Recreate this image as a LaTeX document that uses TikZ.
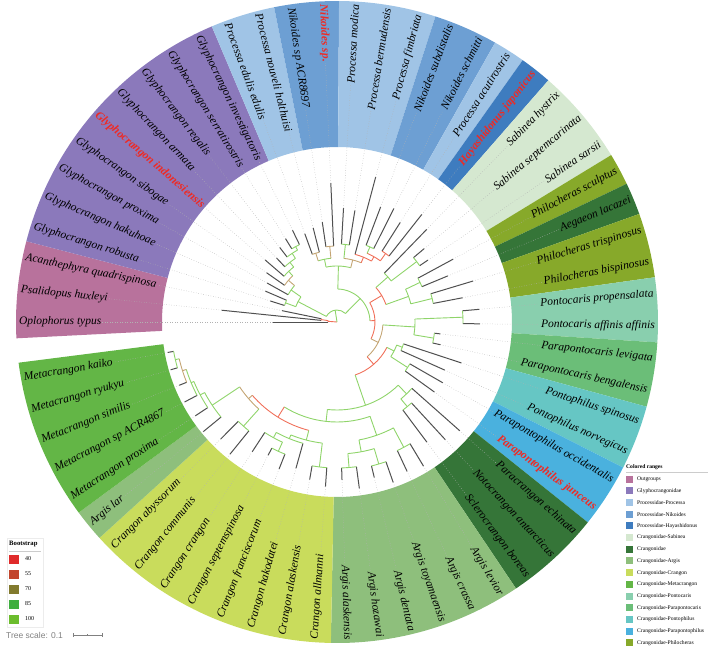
\documentclass[tikz,border=0pt]{standalone}
\usepackage{fontspec}
\setmainfont{Liberation Serif}
\newfontfamily\scalefont{Liberation Sans}
\usepackage{tikz}

\definecolor{cOut}{HTML}{B8729C}
\definecolor{cGly}{HTML}{8B79BB}
\definecolor{cPro}{HTML}{A0C4E6}
\definecolor{cNik}{HTML}{6D9FD3}
\definecolor{cHay}{HTML}{3E7CBF}
\definecolor{cSab}{HTML}{D5E8D0}
\definecolor{cCra}{HTML}{357538}
\definecolor{cArg}{HTML}{8EBF7C}
\definecolor{cCgn}{HTML}{C9DC5C}
\definecolor{cMet}{HTML}{63B646}
\definecolor{cPtc}{HTML}{89CFAE}
\definecolor{cPpc}{HTML}{6BBE78}
\definecolor{cPph}{HTML}{66C6C4}
\definecolor{cPpp}{HTML}{4AB1DE}
\definecolor{cPhi}{HTML}{87A92A}
\definecolor{hlred}{HTML}{EE2A24}
\definecolor{brGreen}{HTML}{8FD46A}
\definecolor{brRed}{HTML}{F0705A}
\definecolor{brBrown}{HTML}{C4A574}
\definecolor{brDark}{HTML}{505050}
\definecolor{bs40}{HTML}{E02B2B}
\definecolor{bs55}{HTML}{C2452C}
\definecolor{bs70}{HTML}{827A2E}
\definecolor{bs85}{HTML}{3FAE3F}
\definecolor{bs100}{HTML}{6CBD2D}

\newcommand{\ang}[1]{180-(#1-1)*5.83}
\newcommand{\hl}[1]{{\color{hlred}\bfseries #1}}
\newcommand{\rangewedge}[3]{%
  \fill[#3] ({\ang{#1}+2.915}:175) arc[start angle={\ang{#1}+2.915}, end angle={\ang{#2}-2.915}, radius=175]
    -- ({\ang{#2}-2.915}:321) arc[start angle={\ang{#2}-2.915}, end angle={\ang{#1}+2.915}, radius=321] -- cycle;}
\newcommand{\inode}[6]{%
  \draw[#6] ({\ang{#1}}:#2) -- ({\ang{#1}}:#3);
  \draw[#6] ({\ang{#4}}:#3) arc[start angle={\ang{#4}}, end angle={\ang{#5}}, radius=#3];}

\begin{document}
\begin{tikzpicture}[x=1pt, y=1pt,
    lbl/.style={font=\fontsize{11.5}{13}\selectfont\itshape, inner sep=1pt},
    guide/.style={gray!60, dotted, line width=0.5pt},
    leafbr/.style={draw=brDark, line width=1pt},
    hi/.style={draw=brGreen, line width=0.9pt},
    lo/.style={draw=brRed, line width=0.9pt},
    mid/.style={draw=brBrown, line width=0.9pt},
    leg/.style={font=\fontsize{5.6}{6}\selectfont, inner sep=0pt}
  ]
  \useasboundingbox (-337,-326) rectangle (372,322);

  \rangewedge{1}{3}{cOut}
  \rangewedge{4}{12}{cGly}
  \rangewedge{13}{14}{cPro}
  \rangewedge{15}{16}{cNik}
  \rangewedge{17}{19}{cPro}
  \rangewedge{20}{21}{cNik}
  \rangewedge{22}{22}{cPro}
  \rangewedge{23}{23}{cHay}
  \rangewedge{24}{26}{cSab}
  \rangewedge{27}{27}{cPhi}
  \rangewedge{28}{28}{cCra}
  \rangewedge{29}{30}{cPhi}
  \rangewedge{31}{32}{cPtc}
  \rangewedge{33}{34}{cPpc}
  \rangewedge{35}{36}{cPph}
  \rangewedge{37}{38}{cPpp}
  \rangewedge{39}{41}{cCra}
  \rangewedge{42}{47}{cArg}
  \rangewedge{48}{55}{cCgn}
  \rangewedge{56}{56}{cArg}
  \rangewedge{57}{61}{cMet}

  \foreach \i/\rp/\rt in {1/9/64, 2/16/116, 3/16/56, 4/55/70, 5/55/78, 6/56/80, 7/64/86,
      8/70/95, 9/76/88, 10/82/94, 11/86/98, 12/86/102, 13/72/94, 14/72/97, 15/76/101,
      16/76/139, 17/78/114, 18/78/113, 19/70/150, 20/82/123, 21/82/127, 22/84/118,
      23/84/137, 24/68/129, 25/100/114, 26/100/110, 27/92/132, 28/92/120, 29/98/142,
      30/98/128, 31/126/143, 32/126/143, 33/98/104, 34/98/106, 35/70/131, 36/70/118,
      37/84/122, 38/84/120, 39/100/164, 40/110/160, 41/110/150, 42/142/168, 43/142/165,
      44/148/170, 45/148/160, 46/146/168, 47/146/158, 48/146/165, 49/146/160, 50/126/152,
      51/142/158, 52/142/150, 53/132/155, 54/140/170, 55/140/165, 56/150/173, 57/155/170,
      58/158/172, 59/162/170, 60/166/173, 61/166/172}
    \draw[leafbr] ({\ang{\i}}:\rp) -- ({\ang{\i}}:\rt) coordinate (t\i);

  \foreach \i/\txt in {1/Oplophorus typus, 2/Psalidopus huxleyi, 3/Acanthephyra quadrispinosa,
      4/Glyphocrangon robusta, 5/Glyphocrangon hakuhoae, 6/Glyphocrangon proxima,
      7/Glyphocrangon sibogae, 8/\hl{Glyphocrangon indonesiensis}, 9/Glyphocrangon armata,
      10/Glyphocrangon regalis, 11/Glyphocrangon serratirostris, 12/Glyphocrangon investigatoris,
      13/Processa edulis edulis, 14/Processa nouveli holthuisi, 15/Nikoides sp ACR8697,
      16/\hl{Nikoides sp.}, 17/Processa modica, 18/Processa bermudensis, 19/Processa fimbriata,
      20/Nikoides subdistalis, 21/Nikoides schmitti, 22/Processa acutirostris,
      23/\hl{Hayashidonus japonicus}, 24/Sabinea hystrix, 25/Sabinea septemcarinata,
      26/Sabinea sarsii, 27/Philocheras sculptus, 28/Aegaeon lacazei, 29/Philocheras trispinosus,
      30/Philocheras bispinosus, 31/Pontocaris propensalata, 32/Pontocaris affinis affinis,
      33/Parapontocaris levigata, 34/Parapontocaris bengalensis, 35/Pontophilus spinosus,
      36/Pontophilus norvegicus, 37/Parapontophilus occidentalis, 38/\hl{Parapontophilus junceus},
      39/Paracrangon echinata, 40/Notocrangon antarcticus, 41/Sclerocrangon boreas,
      42/Argis levior, 43/Argis crassa, 44/Argis toyamaensis, 45/Argis dentata, 46/Argis hozawai,
      47/Argis alaskensis, 48/Crangon allmanni, 49/Crangon alaskensis, 50/Crangon hakodatei,
      51/Crangon franciscorum, 52/Crangon septemspinosa, 53/Crangon crangon, 54/Crangon communis,
      55/Crangon abyssorum, 56/Argis lar, 57/Metacrangon proxima, 58/Metacrangon sp ACR4867,
      59/Metacrangon similis, 60/Metacrangon ryukyu, 61/Metacrangon kaiko}{
    \pgfmathsetmacro\la{\ang{\i}}
    \ifnum\i<17
      \node[lbl, anchor=west, rotate=\la+180] (l\i) at (\la:319) {\txt};
      \draw[guide] (t\i) -- (l\i.east);
    \else\ifnum\i>47
      \node[lbl, anchor=west, rotate=\la+180] (l\i) at (\la:319) {\txt};
      \draw[guide] (t\i) -- (l\i.east);
    \else
      \node[lbl, anchor=east, rotate=\la] (l\i) at (\la:319) {\txt};
      \draw[guide] (t\i) -- (l\i.west);
    \fi\fi
  }

  \inode{1.75}{0}{9}{1}{2.5}{lo}
  \inode{2.5}{9}{16}{2}{3}{lo}
  \inode{14.92}{0}{12}{5.7422}{24.098}{hi}
  \inode{5.7422}{12}{44}{4.5}{6.9844}{hi}
  \inode{4.5}{44}{55}{4}{5}{hi}
  \inode{6.9844}{44}{56}{6}{7.9688}{hi}
  \inode{7.9688}{56}{64}{7}{8.9375}{mid}
  \inode{8.9375}{64}{70}{8}{9.875}{hi}
  \inode{9.875}{70}{76}{9}{10.75}{hi}
  \inode{10.75}{76}{82}{10}{11.5}{hi}
  \inode{11.5}{82}{86}{11}{12}{hi}
  \inode{24.098}{12}{33}{16.6875}{31.5086}{hi}
  \inode{16.6875}{33}{56}{14.5}{18.875}{hi}
  \inode{14.5}{56}{64}{13.5}{15.5}{hi}
  \inode{13.5}{64}{72}{13}{14}{mid}
  \inode{15.5}{64}{76}{15}{16}{mid}
  \inode{18.875}{56}{64}{17.5}{20.25}{mid}
  \inode{17.5}{64}{78}{17}{18}{hi}
  \inode{20.25}{64}{70}{19}{21.5}{lo}
  \inode{21.5}{70}{75}{20.5}{22.5}{lo}
  \inode{20.5}{75}{82}{20}{21}{hi}
  \inode{22.5}{75}{84}{22}{23}{lo}
  \inode{31.5086}{33}{38}{26.625}{36.3921}{lo}
  \inode{26.625}{38}{52}{24.75}{28.5}{lo}
  \inode{24.75}{52}{68}{24}{25.5}{hi}
  \inode{25.5}{68}{100}{25}{26}{hi}
  \inode{28.5}{52}{76}{27.5}{29.5}{hi}
  \inode{27.5}{76}{92}{27}{28}{hi}
  \inode{29.5}{76}{98}{29}{30}{hi}
  \inode{36.3921}{38}{46}{32.5}{40.2842}{mid}
  \inode{32.5}{46}{78}{31.5}{33.5}{hi}
  \inode{31.5}{78}{126}{31}{32}{hi}
  \inode{33.5}{78}{98}{33}{34}{hi}
  \inode{40.2842}{46}{56}{36.5}{44.0684}{lo}
  \inode{36.5}{56}{64}{35.5}{37.5}{hi}
  \inode{35.5}{64}{70}{35}{36}{hi}
  \inode{37.5}{64}{84}{37}{38}{hi}
  \inode{44.0684}{56}{88}{39.75}{48.3867}{hi}
  \inode{39.75}{88}{100}{39}{40.5}{hi}
  \inode{40.5}{100}{110}{40}{41}{hi}
  \inode{48.3867}{88}{100}{44}{52.7734}{hi}
  \inode{44}{100}{120}{42.5}{45.5}{hi}
  \inode{42.5}{120}{142}{42}{43}{hi}
  \inode{45.5}{120}{132}{44.5}{46.5}{hi}
  \inode{44.5}{132}{148}{44}{45}{hi}
  \inode{46.5}{132}{146}{46}{47}{hi}
  \inode{52.7734}{100}{112}{49.8125}{55.7344}{lo}
  \inode{49.8125}{112}{122}{48.5}{51.125}{hi}
  \inode{48.5}{122}{146}{48}{49}{hi}
  \inode{51.125}{122}{126}{50}{52.25}{hi}
  \inode{52.25}{126}{132}{51.5}{53}{hi}
  \inode{51.5}{132}{142}{51}{52}{hi}
  \inode{55.7344}{112}{117}{54.5}{56.9688}{mid}
  \inode{54.5}{117}{140}{54}{55}{hi}
  \inode{56.9688}{117}{150}{56}{57.9375}{hi}
  \inode{57.9375}{150}{155}{57}{58.875}{hi}
  \inode{58.875}{155}{158}{58}{59.75}{hi}
  \inode{59.75}{158}{162}{59}{60.5}{mid}
  \inode{60.5}{162}{166}{60}{61}{hi}

  \draw[gray!15] (-330,-216) rectangle (-294,-305);
  \node[font=\fontsize{6.7}{7}\selectfont\bfseries, anchor=west, inner sep=0pt] (bstitle) at (-328,-222) {Bootstrap};
  \draw[gray!40] (-328,-229) -- (-296,-229);
  \foreach \c/\t [count=\k from 0] in {bs40/40, bs55/55, bs70/70, bs85/85, bs100/100}{
    \fill[\c] (-328,{-241.5-\k*15}) rectangle ++(10,9);
    \node[font=\fontsize{6}{7}\selectfont, anchor=west, inner sep=0pt] (bs\k) at (-312,{-237-\k*15}) {\t};
  }
  \node[font=\scalefont\fontsize{8.5}{9}\selectfont, text=gray, anchor=west, inner sep=0pt] (scale) at (-331,-313) {Tree scale: 0.1};
  \draw[gray, line width=0.5pt] (-264,-313) -- (-235,-313);
  \draw[gray, line width=0.5pt] (-264,-311) -- (-264,-315) (-235,-311) -- (-235,-315) (-249.5,-312) -- (-249.5,-314);

  \node[font=\fontsize{5.6}{6}\selectfont\bfseries, anchor=west, inner sep=0pt] (crtitle) at (289,-145) {Colored ranges};
  \draw[gray!40] (289,-150) -- (371,-150);
  \foreach \c/\t [count=\k from 0] in {cOut/Outgroups, cGly/Glyphocrangonidae, cPro/Processidae-Processa,
      cNik/Processidae-Nikoides, cHay/Processidae-Hayashidonus, cSab/Crangonidae-Sabinea,
      cCra/Crangonidae, cArg/Crangonidae-Argis, cCgn/Crangonidae-Crangon, cMet/Crangonidae-Metacrangon,
      cPtc/Crangonidae-Pontocaris, cPpc/Crangonidae-Parapontocaris, cPph/Crangonidae-Pontophilus,
      cPpp/Crangonidae-Parapontophilus, cPhi/Crangonidae-Philocheras}{
    \fill[\c] (289,{-160.5-\k*11.71}) rectangle ++(7,7);
    \node[leg, anchor=west] (cr\k) at (300,{-157-\k*11.71}) {\t};
  }
\end{tikzpicture}
\end{document}
